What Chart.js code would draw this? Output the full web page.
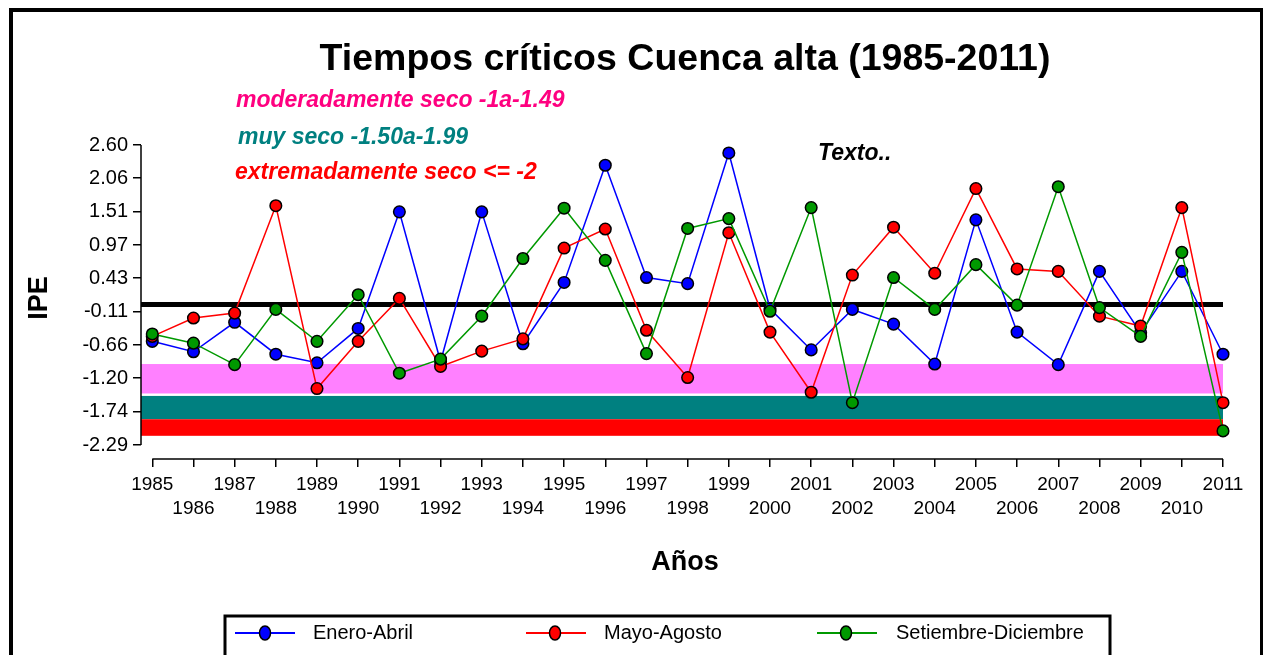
<!DOCTYPE html>
<html><head><meta charset="utf-8">
<script src="https://cdn.jsdelivr.net/npm/chart.js@4.4.1/dist/chart.umd.min.js"></script>
<style>html,body{margin:0;padding:0;background:#fff;}canvas{display:block;}</style>
</head><body>
<canvas id="c" width="1265" height="655"></canvas>
<script>
// ---- data ----
const years = [1985,1986,1987,1988,1989,1990,1991,1992,1993,1994,1995,1996,1997,1998,1999,2000,2001,2002,2003,2004,2005,2006,2007,2008,2009,2010,2011];
const eneroAbril = [-0.60,-0.77,-0.29,-0.81,-0.95,-0.39,1.51,-0.93,1.51,-0.64,0.36,2.27,0.44,0.34,2.47,-0.07,-0.74,-0.08,-0.32,-0.97,1.38,-0.45,-0.98,0.54,-0.46,0.54,-0.81];
const mayoAgosto = [-0.52,-0.22,-0.14,1.61,-1.37,-0.60,0.10,-1.01,-0.76,-0.56,0.92,1.23,-0.42,-1.19,1.17,-0.45,-1.43,0.48,1.26,0.51,1.89,0.58,0.54,-0.19,-0.35,1.58,-1.60];
const setiembreDiciembre = [-0.48,-0.63,-0.98,-0.08,-0.60,0.16,-1.12,-0.89,-0.19,0.75,1.57,0.72,-0.80,1.24,1.40,-0.11,1.58,-1.60,0.44,-0.08,0.65,-0.01,1.92,-0.05,-0.52,0.85,-2.06];
const seriesNames = ['Enero-Abril','Mayo-Agosto','Setiembre-Diciembre'];
const yTickValues = [2.60,2.06,1.51,0.97,0.43,-0.11,-0.66,-1.20,-1.74,-2.29];
const bandTops = [-0.97,-1.49,-1.87];
const bandBottoms = [-1.45,-1.87,-2.14];
const referenceLine = 0;
const noteTexts = ['moderadamente seco -1a-1.49','muy seco -1.50a-1.99','extremadamente seco <= -2','Texto..'];
const chartTitle = 'Tiempos críticos Cuenca alta (1985-2011)';
const xTitle = 'Años';
const yTitle = 'IPE';

// ---- styles ----
const FONT = "'Liberation Sans', Arial, sans-serif";
const seriesColors = ['#0000FF','#FF0000','#009900'];
const bandColors = ['#FF80FF','#008080','#FF0000'];
const noteColors = ['#FF0080','#008080','#FF0000','#000000'];

const seriesValues = [eneroAbril, mayoAgosto, setiembreDiciembre];

const decor = {
  id: 'decor',
  beforeDraw(chart) {
    const ctx = chart.ctx;
    ctx.save();
    ctx.fillStyle = '#fff';
    ctx.fillRect(0, 0, chart.width, chart.height);
    ctx.fillStyle = '#000';
    ctx.fillRect(9, 8, 4, 700);
    ctx.fillRect(9, 8, 1254, 4);
    ctx.fillRect(1260, 8, 3, 700);
    ctx.restore();
  },
  beforeDatasetsDraw(chart) {
    const ctx = chart.ctx, a = chart.chartArea, ys = chart.scales.y;
    ctx.save();
    for (let i = 0; i < bandTops.length; i++) {
      const t = ys.getPixelForValue(bandTops[i]);
      const b = ys.getPixelForValue(bandBottoms[i]);
      ctx.fillStyle = bandColors[i];
      ctx.fillRect(a.left, t, a.right - a.left, b - t);
    }
    const zy = ys.getPixelForValue(referenceLine);
    ctx.strokeStyle = '#000';
    ctx.lineWidth = 5;
    ctx.beginPath();
    ctx.moveTo(a.left, zy);
    ctx.lineTo(a.right, zy);
    ctx.stroke();
    ctx.restore();
  },
  afterDraw(chart) {
    const ctx = chart.ctx, a = chart.chartArea, ys = chart.scales.y, xs = chart.scales.x;
    ctx.save();
    // axis lines
    ctx.strokeStyle = '#000';
    ctx.lineWidth = 1.5;
    ctx.beginPath();
    ctx.moveTo(a.left, ys.getPixelForValue(yTickValues[0]));
    ctx.lineTo(a.left, ys.getPixelForValue(yTickValues[yTickValues.length - 1]));
    ctx.stroke();
    ctx.beginPath();
    ctx.moveTo(xs.getPixelForValue(years[0]), a.bottom);
    ctx.lineTo(xs.getPixelForValue(years[years.length - 1]), a.bottom);
    ctx.stroke();

    // title
    ctx.fillStyle = '#000';
    ctx.textAlign = 'center';
    ctx.textBaseline = 'alphabetic';
    ctx.font = 'bold 37.5px ' + FONT;
    ctx.fillText(chartTitle, 685, 70);

    // notes
    ctx.textBaseline = 'middle';
    ctx.textAlign = 'left';
    ctx.font = 'italic bold 23px ' + FONT;
    const notePos = [[236, 101], [238, 138], [235, 173], [818, 154]];
    noteTexts.forEach((t, i) => {
      ctx.fillStyle = noteColors[i];
      ctx.fillText(t, notePos[i][0], notePos[i][1]);
    });

    // axis titles
    ctx.fillStyle = '#000';
    ctx.textAlign = 'center';
    ctx.font = 'bold 27px ' + FONT;
    ctx.fillText(xTitle, (a.left + a.right) / 2 + 3, 563);
    ctx.save();
    ctx.translate(40, 298);
    ctx.rotate(-Math.PI / 2);
    ctx.fillText(yTitle, 0, 0);
    ctx.restore();

    // legend
    ctx.lineWidth = 3;
    ctx.strokeStyle = '#000';
    ctx.strokeRect(225, 616, 885, 70);
    const items = [[235, 295, 265, 313], [526, 586, 555, 604], [817, 877, 846, 896]];
    const ly = 633;
    ctx.font = '20px ' + FONT;
    ctx.textAlign = 'left';
    items.forEach((it, i) => {
      ctx.strokeStyle = seriesColors[i];
      ctx.lineWidth = 2;
      ctx.beginPath();
      ctx.moveTo(it[0], ly);
      ctx.lineTo(it[1], ly);
      ctx.stroke();
      ctx.beginPath();
      ctx.ellipse(it[2], ly, 5.5, 7, 0, 0, Math.PI * 2);
      ctx.fillStyle = seriesColors[i];
      ctx.fill();
      ctx.lineWidth = 1.5;
      ctx.strokeStyle = '#000';
      ctx.stroke();
      ctx.fillStyle = '#000';
      ctx.fillText(seriesNames[i], it[3], ly);
    });
    ctx.restore();
  }
};

new Chart(document.getElementById('c'), {
  type: 'line',
  data: {
    datasets: seriesValues.map((vals, i) => ({
      label: seriesNames[i],
      data: years.map((yr, j) => ({ x: yr, y: vals[j] })),
      borderColor: seriesColors[i],
      backgroundColor: seriesColors[i],
      pointBackgroundColor: seriesColors[i],
      pointBorderColor: '#000',
      pointBorderWidth: 1.5,
      pointRadius: 5.8,
      borderWidth: 1.5,
      tension: 0,
      fill: false,
      clip: false,
      order: 3 - i
    }))
  },
  options: {
    responsive: false,
    animation: false,
    devicePixelRatio: 1,
    layout: { padding: { top: 145, right: 42, bottom: 0, left: 0 } },
    plugins: {
      legend: { display: false },
      tooltip: { enabled: false },
      title: { display: false }
    },
    scales: {
      x: {
        type: 'linear',
        min: 1984.726,
        max: 2011,
        afterFit(s) { s.height = 196; },
        afterBuildTicks(s) { s.ticks = years.map(v => ({ value: v })); },
        ticks: {
          autoSkip: false, maxRotation: 0, minRotation: 0, padding: 6,
          color: '#000', font: { family: FONT, size: 19, lineHeight: 1.26 },
          callback: (v) => (v % 2 === 1 ? String(v) : ['', String(v)])
        },
        grid: { drawOnChartArea: false, drawTicks: true, tickLength: 8, color: '#000', lineWidth: 1.5 },
        border: { display: false }
      },
      y: {
        min: -2.518,
        max: 2.60,
        afterFit(s) { s.width = 141; },
        afterBuildTicks(s) { s.ticks = yTickValues.map(v => ({ value: v })); },
        ticks: {
          padding: 5, color: '#000', font: { family: FONT, size: 20 },
          callback: (v) => Number(v).toFixed(2)
        },
        grid: { drawOnChartArea: false, drawTicks: true, tickLength: 8, color: '#000', lineWidth: 1.5 },
        border: { display: false }
      }
    }
  },
  plugins: [decor]
});
</script>
</body></html>
